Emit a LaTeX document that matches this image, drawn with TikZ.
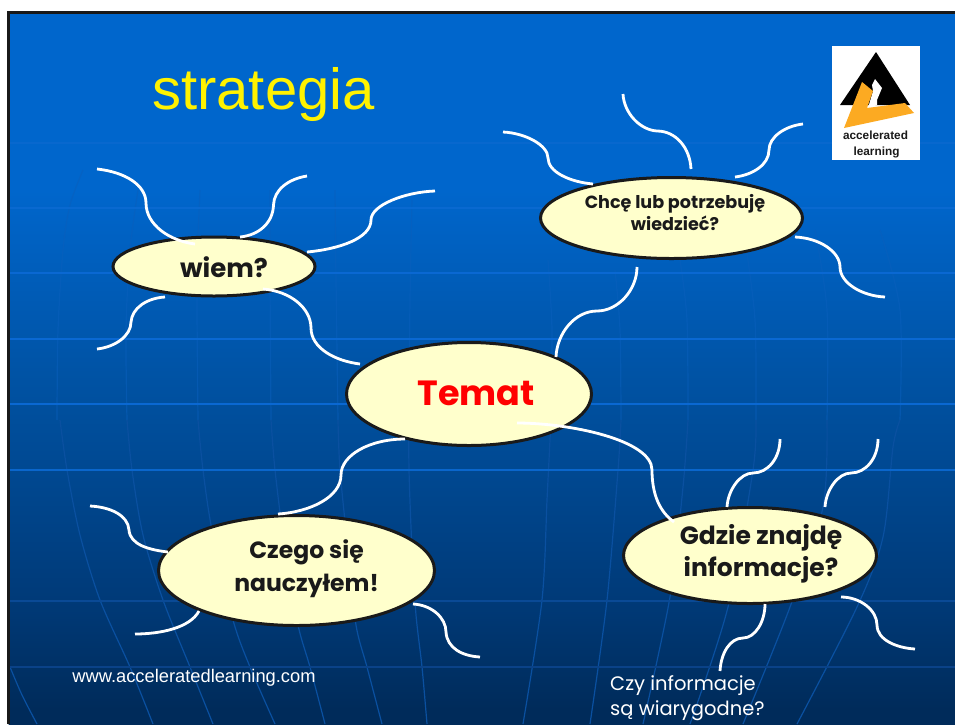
\documentclass[tikz,border=0pt]{standalone}
\usepackage{fontspec}
\setmainfont{Liberation Sans}
\newfontfamily\comic{Poppins}
\usetikzlibrary{shapes.geometric}
\definecolor{bgtop}{HTML}{0066CC}
\definecolor{bgb}{HTML}{00509F}
\definecolor{bgc}{HTML}{003A78}
\definecolor{bgd}{HTML}{002B5A}
\definecolor{cream}{HTML}{FFFFCC}
\definecolor{inkk}{HTML}{1A1A1A}
\definecolor{logoor}{HTML}{FCAA22}
\definecolor{merlow}{HTML}{0A50A0}
\definecolor{merup}{HTML}{0A5FBC}
\pgfdeclareverticalshading{slidebg}{100bp}{color(0bp)=(bgd); color(26bp)=(bgd); color(33.7bp)=(bgc); color(47.7bp)=(bgb); color(62.5bp)=(bgtop); color(100bp)=(bgtop)}
\tikzset{
  x=1pt,y=-1pt,
  bub/.style={ellipse,draw=inkk,line width=3pt,fill=cream,inner sep=0pt,text=inkk},
  wire/.style={draw=white,line width=2.8pt},
  gridh/.style={line width=1.5pt},
  gridl/.style={line width=1.2pt,draw=merlow},
  gridu/.style={line width=1.2pt,draw=merup,opacity=.55}
}
\newcommand{\mytext}[5]{\raisebox{#2}[0pt][0pt]{\makebox[0pt]{\kern#1\comic\fontsize{#3}{#4}\selectfont\bfseries\begin{tabular}{@{}c@{}}#5\end{tabular}}}}
\newcommand{\merl}[1]{\draw[gridl] plot[smooth] coordinates {#1};}
\newcommand{\meru}[1]{\draw[gridu] plot[smooth] coordinates {#1};}
\begin{document}
\begin{tikzpicture}
\useasboundingbox (0,0) rectangle (955,724);
\fill[white] (0,0) rectangle (955,724);
\begin{scope}
\clip (0,0) rectangle (955,724);
\shade[shading=slidebg] (8.5,12.5) rectangle (960,724);
% meridians, upper parts
\meru{(83,170)(70,205)(63,250)(58,330)(57,420)}
\meru{(138,190)(130,250)(126,330)(127,420)}
\meru{(200,190)(197,280)(198,420)}
\meru{(270,190)(270,280)(271,420)}
\meru{(335,190)(336,280)(338,420)}
\meru{(412,200)(410,300)(409,420)}
\meru{(548,260)(552,330)(551,420)}
\meru{(615,270)(620,330)(621,420)}
\meru{(680,260)(687,320)(688,420)}
\meru{(745,240)(755,320)(756,420)}
\meru{(815,230)(827,310)(827,420)}
\meru{(880,230)(900,310)(900,420)}
% meridians, lower parts
\merl{(60,420)(67,470)(80,535)(100,600)(130,667)(153,724)}
\merl{(127,420)(132,470)(143,535)(163,600)(190,667)(213,724)}
\merl{(198,420)(203,470)(212,530)(233,620)(250,667)(275,724)}
\merl{(271,420)(275,470)(285,550)(298,625)(310,667)(325,724)}
\merl{(338,420)(340,470)(348,550)(356,625)(367,667)(382,724)}
\merl{(409,420)(409,470)(412,550)(416,615)(422,667)(427,724)}
\merl{(551,420)(550,440)(547,500)(542,600)(523,724)}
\merl{(621,420)(618,470)(607,600)(590,724)}
\merl{(688,420)(683,487)(670,597)(643,724)}
\merl{(756,420)(753,470)(728,607)(690,724)}
\merl{(827,420)(823,507)(790,607)(743,724)}
\merl{(900,420)(893,447)(883,537)(857,607)(797,724)}
\merl{(10,667)(22,695)(37,724)}
% horizontal grid
\foreach \yy/\cc in {143/0868CE,208/0969D0,273/0A68D2,339/0A68D2,404/0A68D2,470/0A66CC,601/0A4A96,667/0A4288}{
  \definecolor{tmpc}{HTML}{\cc}
  \draw[gridh,tmpc] (10,\yy) -- (955,\yy);
}
\draw[line width=3pt,black!90!white] (7,12.5) -- (960,12.5);
\draw[line width=3pt,black!90!white] (8.5,11) -- (8.5,724);
\end{scope}

% logo
\fill[white] (832,46) rectangle (920,160);
\fill[black] (876,52) -- (840,105) -- (910,105) -- cycle;
\fill[white] (872,85) -- (875,79) -- (882,88) -- (877,100) -- (877,105) -- (868,108) -- (873,91) -- cycle;
\fill[logoor] (844,128) -- (862,82) -- (873,91) -- (867,108) -- (905,103) -- (914,113) -- cycle;
\node[font=\fontsize{11.8}{12}\selectfont\bfseries,text=inkk,anchor=base,inner sep=0pt] (logoa) at (875.5,139) {accelerated};
\node[font=\fontsize{11.8}{12}\selectfont\bfseries,text=inkk,anchor=base,inner sep=0pt] (logob) at (876.5,155) {learning};

% title and footer
\node[font=\fontsize{58}{60}\selectfont,text=yellow,anchor=base,inner sep=0pt] (title) at (263.5,109) {strategia};
\node[font=\fontsize{18.3}{20}\selectfont,text=white,anchor=base,inner sep=0pt] (site) at (194,682) {www.acceleratedlearning.com};
\node[font=\comic\fontsize{19.5}{25}\selectfont,text=white,anchor=base west,inner sep=0pt,align=left] (czy) at (610,715) {Czy informacje\\są wiarygodne?};

% bubbles
\node[bub,minimum width=202pt,minimum height=59pt] (wiem) at (214,266.5) {\mytext{20pt}{-11pt}{26}{30}{wiem?}};
\node[bub,minimum width=245pt,minimum height=103pt,text=red] (temat) at (469,394) {\mytext{14pt}{-10pt}{35}{40}{Temat}};
\node[bub,minimum width=262pt,minimum height=81pt] (chce) at (671.5,218) {\mytext{7pt}{-1pt}{17.6}{22}{Chcę lub potrzebuję\\wiedzieć?}};
\node[bub,minimum width=276pt,minimum height=110pt] (czego) at (296.5,570.5) {\mytext{20pt}{-4.5pt}{23.5}{33}{Czego się\\nauczyłem!}};
\node[bub,minimum width=253pt,minimum height=96pt] (gdzie) at (750,555.5) {\mytext{22pt}{-5pt}{25}{32}{Gdzie znajdę\\informacje?}};

% free ends
\coordinate (fw1) at (97,169);
\coordinate (fw2) at (307,176);
\coordinate (fw3) at (435,191);
\coordinate (fw4) at (97,349);
\coordinate (fc1) at (503,132);
\coordinate (fc2) at (623,94);
\coordinate (fc3) at (803,124);
\coordinate (fc4) at (885,297);
\coordinate (fz1) at (90,506);
\coordinate (fz2) at (135,634);
\coordinate (fz3) at (480,657);
\coordinate (fg1) at (780,439);
\coordinate (fg2) at (878,439);
\coordinate (fg3) at (720,671);
\coordinate (fg4) at (915,649);

% connectors: wiem
\draw[wire] (fw1) .. controls (125,172) and (146,185) .. (146,203) .. controls (146,225) and (170,241) .. ([shift={(-19,-22.5)}]wiem.center);
\draw[wire] ([shift={(26,-29.5)}]wiem.center) .. controls (260,235) and (273,222) .. (273.5,205) .. controls (274,190) and (288,179) .. (fw2);
\draw[wire] ([shift={(93,-14.5)}]wiem.center) .. controls (340,249) and (371,238) .. (371,220) .. controls (371,205) and (405,192) .. (fw3);
\draw[wire] ([shift={(-49,30.5)}]wiem.center) .. controls (147,298) and (132,308) .. (131,322) .. controls (131,336) and (115,347) .. (fw4);
\draw[wire] ([shift={(49,22.5)}]wiem.center) .. controls (290,291) and (311,308) .. (311,328) .. controls (311,348) and (335,361) .. ([shift={(-109,-30)}]temat.center);
% chce
\draw[wire] (fc1) .. controls (525,133) and (548,145) .. (548,158) .. controls (548,172) and (570,182) .. ([shift={(-78.5,-34)}]chce.center);
\draw[wire] (fc2) .. controls (624,113) and (640,130) .. (657,131) .. controls (676,131) and (690,148) .. ([shift={(19.5,-49)}]chce.center);
\draw[wire] ([shift={(63.5,-41)}]chce.center) .. controls (752,175) and (769,165) .. (769,150) .. controls (769,137) and (785,126) .. (fc3);
\draw[wire] ([shift={(123.5,19)}]chce.center) .. controls (820,238) and (840,252) .. (840,267) .. controls (840,283) and (862,296) .. (fc4);
\draw[wire] ([shift={(-34.5,49)}]chce.center) .. controls (637,290) and (618,311) .. (597,311) .. controls (575,311) and (557,333) .. ([shift={(87,-37)}]temat.center);
% temat
\draw[wire] ([shift={(-64,45)}]temat.center) .. controls (370,439) and (341,455) .. (341,475) .. controls (341,497) and (310,512) .. ([shift={(-18.5,-56.5)}]czego.center);
\draw[wire] ([shift={(48,29)}]temat.center) .. controls (570,423) and (652,440) .. (652,470) .. controls (652,495) and (660,512) .. ([shift={(-76,-33.5)}]gdzie.center);
% czego
\draw[wire] (fz1) .. controls (110,507) and (128,515) .. (129,530) .. controls (130,545) and (150,550) .. ([shift={(-128.5,-18.5)}]czego.center);
\draw[wire] ([shift={(-97.5,40.5)}]czego.center) .. controls (190,628) and (160,634) .. (fz2);
\draw[wire] ([shift={(116.5,33.5)}]czego.center) .. controls (432,605) and (446,618) .. (446,632) .. controls (447,648) and (462,656) .. (fz3);
% gdzie
\draw[wire] ([shift={(-23,-48.5)}]gdzie.center) .. controls (728,490) and (740,473) .. (753,473) .. controls (768,473) and (780,458) .. (fg1);
\draw[wire] ([shift={(75,-48.5)}]gdzie.center) .. controls (826,490) and (838,473) .. (851,473) .. controls (866,473) and (878,458) .. (fg2);
\draw[wire] ([shift={(15,48.5)}]gdzie.center) .. controls (765,622) and (755,638) .. (743,638) .. controls (730,638) and (721,653) .. (fg3);
\draw[wire] ([shift={(91,41.5)}]gdzie.center) .. controls (860,597) and (877,610) .. (877,625) .. controls (877,640) and (897,648) .. (fg4);
\end{tikzpicture}
\end{document}
